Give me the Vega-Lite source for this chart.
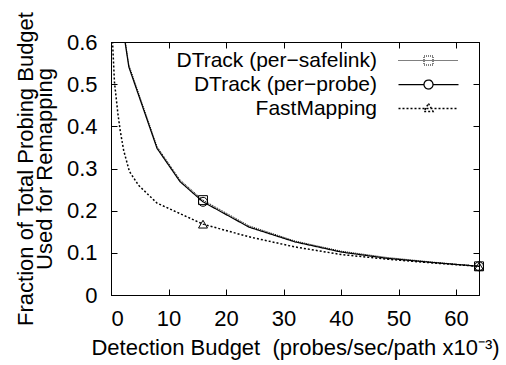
{
  "$schema": "https://vega.github.io/schema/vega-lite/v6.json",
  "width": 368,
  "height": 253,
  "autosize": {"type": "none"},
  "padding": {"left": 111, "top": 42, "right": 27, "bottom": 70},
  "background": "white",
  "config": {
    "view": {"stroke": "black", "strokeWidth": 1},
    "font": "Liberation Sans",
    "axis": {
      "labelFont": "Liberation Sans",
      "labelFontSize": 22,
      "labelColor": "black",
      "titleFont": "Liberation Sans",
      "titleFontSize": 22,
      "titleFontWeight": "normal",
      "titleColor": "black",
      "tickColor": "black",
      "tickSize": -6,
      "domainColor": "black",
      "grid": false
    }
  },
  "data": {
    "values": [
      {"series": "DTrack (per−safelink)", "x": 2, "y": 0.645},
      {"series": "DTrack (per−safelink)", "x": 3.1, "y": 0.546},
      {"series": "DTrack (per−safelink)", "x": 8, "y": 0.352},
      {"series": "DTrack (per−safelink)", "x": 12, "y": 0.273},
      {"series": "DTrack (per−safelink)", "x": 16, "y": 0.225},
      {"series": "DTrack (per−safelink)", "x": 24, "y": 0.164},
      {"series": "DTrack (per−safelink)", "x": 32, "y": 0.128},
      {"series": "DTrack (per−safelink)", "x": 40, "y": 0.104},
      {"series": "DTrack (per−safelink)", "x": 48, "y": 0.089},
      {"series": "DTrack (per−safelink)", "x": 56, "y": 0.078},
      {"series": "DTrack (per−safelink)", "x": 64, "y": 0.068},
      {"series": "DTrack (per−probe)", "x": 2, "y": 0.64},
      {"series": "DTrack (per−probe)", "x": 3.1, "y": 0.541},
      {"series": "DTrack (per−probe)", "x": 8, "y": 0.348},
      {"series": "DTrack (per−probe)", "x": 12, "y": 0.269},
      {"series": "DTrack (per−probe)", "x": 16, "y": 0.221},
      {"series": "DTrack (per−probe)", "x": 24, "y": 0.161},
      {"series": "DTrack (per−probe)", "x": 32, "y": 0.126},
      {"series": "DTrack (per−probe)", "x": 40, "y": 0.102},
      {"series": "DTrack (per−probe)", "x": 48, "y": 0.087},
      {"series": "DTrack (per−probe)", "x": 56, "y": 0.077},
      {"series": "DTrack (per−probe)", "x": 64, "y": 0.068},
      {"series": "FastMapping", "x": 0.2, "y": 0.62},
      {"series": "FastMapping", "x": 0.6, "y": 0.505},
      {"series": "FastMapping", "x": 1.2, "y": 0.43},
      {"series": "FastMapping", "x": 1.6, "y": 0.39},
      {"series": "FastMapping", "x": 2.2, "y": 0.343},
      {"series": "FastMapping", "x": 3.2, "y": 0.293},
      {"series": "FastMapping", "x": 4.8, "y": 0.26},
      {"series": "FastMapping", "x": 8, "y": 0.218},
      {"series": "FastMapping", "x": 16, "y": 0.168},
      {"series": "FastMapping", "x": 24, "y": 0.138},
      {"series": "FastMapping", "x": 32, "y": 0.114},
      {"series": "FastMapping", "x": 40, "y": 0.096},
      {"series": "FastMapping", "x": 48, "y": 0.085},
      {"series": "FastMapping", "x": 56, "y": 0.076},
      {"series": "FastMapping", "x": 64, "y": 0.068}
    ]
  },
  "layer": [
    {
      "mark": {"type": "line", "clip": true, "color": "black"},
      "encoding": {
        "x": {
          "field": "x", "type": "quantitative",
          "scale": {"domain": [0, 64], "nice": false, "zero": false},
          "axis": {"orient": "bottom", "values": [0, 10, 20, 30, 40, 50, 60], "labelPadding": 19, "titlePadding": 8,
                   "title": "Detection Budget\u00a0 (probes/sec/path x10⁻³)"}
        },
        "y": {
          "field": "y", "type": "quantitative",
          "scale": {"domain": [0, 0.6], "nice": false},
          "axis": {"orient": "left", "values": [0, 0.1, 0.2, 0.3, 0.4, 0.5, 0.6], "labelPadding": 20, "titlePadding": 10,
                   "labelExpr": "datum.value == 0 ? '0' : format(datum.value, '.1f')",
                   "titleLineHeight": 19,
                   "title": ["Fraction of Total Probing Budget", "Used for Remapping"]}
        },
        "strokeDash": {
          "field": "series", "type": "nominal",
          "scale": {"domain": ["DTrack (per−safelink)", "DTrack (per−probe)", "FastMapping"], "range": [[1, 1], [1, 0], [2, 2]]},
          "legend": {
            "title": null,
            "orient": "none",
            "legendX": 307,
            "legendY": 8,
            "labelFont": "Liberation Sans",
            "labelFontSize": 21,
            "labelColor": "black",
            "labelAlign": "right",
            "labelOffset": -62,
            "labelLimit": 400,
            "symbolSize": 100,
            "symbolStrokeColor": "black",
            "symbolFillColor": "transparent",
            "symbolStrokeWidth": 1,
            "rowPadding": 2,
            "encode": {
              "symbols": {
                "update": {
                  "shape": {"signal": "datum.value === 'FastMapping' ? 'M-6,0L6,0M0,-1L0.9,0.6L-0.9,0.6Z' : (datum.value === 'DTrack (per−probe)' ? 'M-6,0L-0.9,0M0.9,0L6,0M0.9,0A0.9,0.9,0,1,1,-0.9,0A0.9,0.9,0,1,1,0.9,0Z' : 'M-6,0L6,0M-0.9,-0.9L0.9,-0.9L0.9,0.9L-0.9,0.9Z')"},
                  "fill": {"value": "transparent"}
                }
              }
            }
          }
        },
        "strokeWidth": {
          "field": "series", "type": "nominal",
          "scale": {"domain": ["DTrack (per−safelink)", "DTrack (per−probe)", "FastMapping"], "range": [1, 1.5, 1]},
          "legend": null
        }
      }
    },
    {
      "transform": [{"filter": {"and": [{"field": "series", "equal": "DTrack (per−safelink)"}, {"field": "x", "oneOf": [16, 64]}]}}],
      "mark": {"type": "point", "shape": "square", "filled": false, "color": "black", "size": 80, "strokeWidth": 1, "opacity": 1},
      "encoding": {
        "x": {"field": "x", "type": "quantitative",
              "axis": {"orient": "top", "values": [0, 10, 20, 30, 40, 50, 60], "labels": false, "title": null}},
        "y": {"field": "y", "type": "quantitative",
              "axis": {"orient": "right", "values": [0, 0.1, 0.2, 0.3, 0.4, 0.5, 0.6], "labels": false, "title": null}}
      }
    },
    {
      "transform": [{"filter": {"and": [{"field": "series", "equal": "DTrack (per−probe)"}, {"field": "x", "oneOf": [16, 64]}]}}],
      "mark": {"type": "point", "shape": "circle", "filled": false, "color": "black", "size": 80, "strokeWidth": 1, "opacity": 1},
      "encoding": {
        "x": {"field": "x", "type": "quantitative", "axis": null},
        "y": {"field": "y", "type": "quantitative", "axis": null}
      }
    },
    {
      "transform": [{"filter": {"and": [{"field": "series", "equal": "FastMapping"}, {"field": "x", "oneOf": [16, 64]}]}}],
      "mark": {"type": "point", "shape": "triangle-up", "filled": false, "color": "black", "size": 80, "strokeWidth": 1, "opacity": 1},
      "encoding": {
        "x": {"field": "x", "type": "quantitative", "axis": null},
        "y": {"field": "y", "type": "quantitative", "axis": null}
      }
    }
  ],
  "resolve": {"axis": {"x": "independent", "y": "independent"}}
}
